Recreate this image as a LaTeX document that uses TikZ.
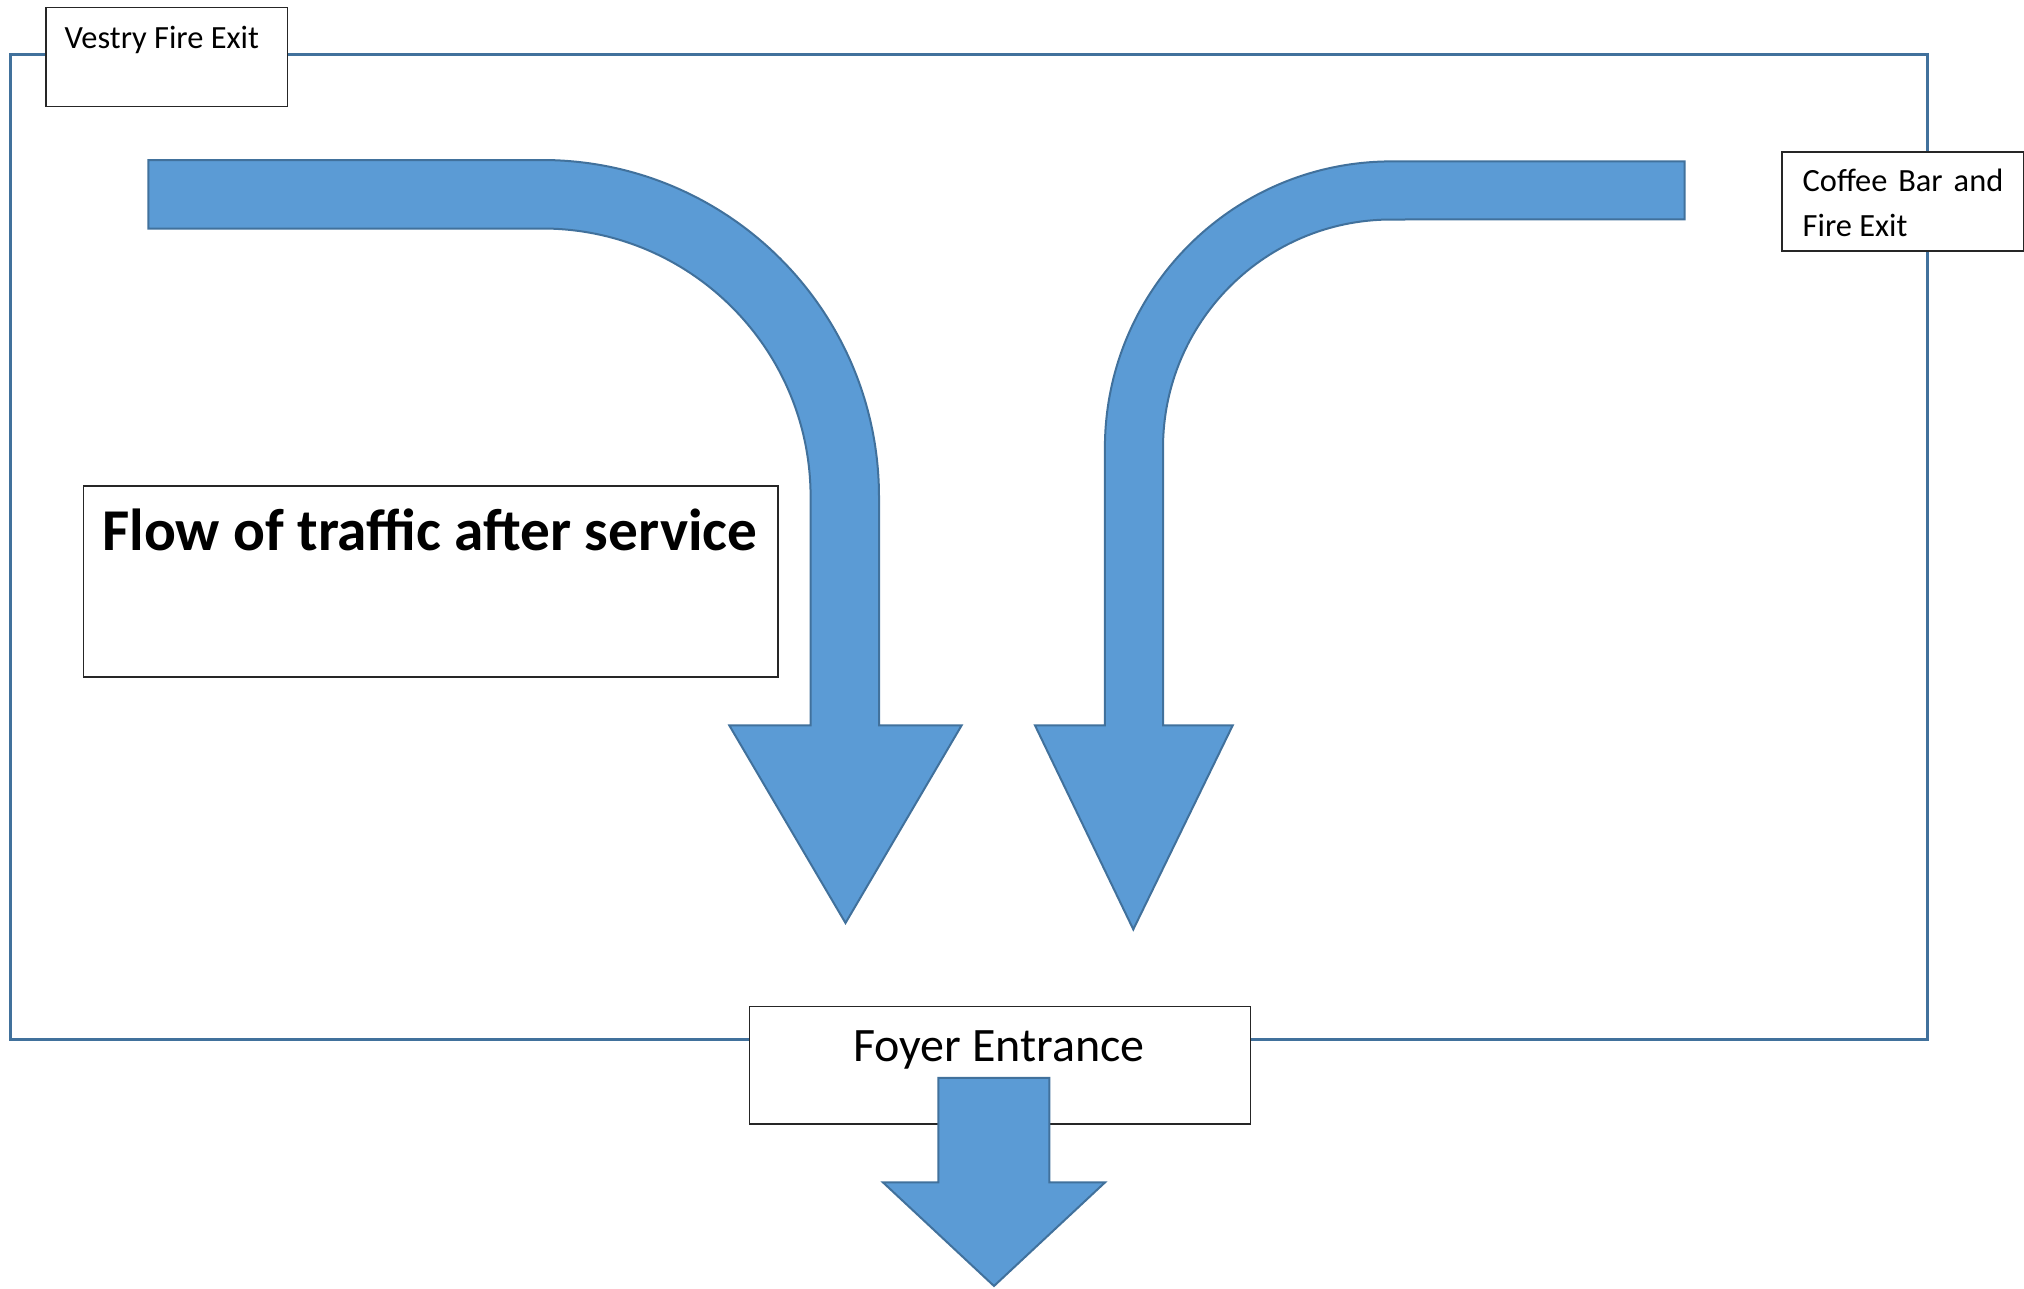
\documentclass[tikz,border=0pt]{standalone}
\usepackage{fontspec}
\setmainfont{Carlito}
\definecolor{arrowblue}{RGB}{91,155,213}
\definecolor{arrowedge}{RGB}{65,113,156}
\definecolor{wallblue}{RGB}{65,113,156}

\begin{document}
\begin{tikzpicture}[x=1pt,y=-1pt,
  wall/.style={draw=wallblue, line width=2.8pt},
  box/.style={draw=black!85, line width=1.5pt, fill=white, inner sep=0pt, anchor=north west},
  flowarrow/.style={fill=arrowblue, draw=arrowedge, line width=2pt, line join=miter},
  small/.style={inner sep=0pt, anchor=base west, font=\fontsize{32.4}{38}\selectfont},
  big/.style={inner sep=0pt, anchor=base, font=\fontsize{48}{56}\selectfont},
  heading/.style={inner sep=0pt, anchor=base, font=\bfseries\fontsize{59.3}{70}\selectfont}]

\useasboundingbox (0,0) rectangle (2024,1288);

% outline of the hall
\draw[wall] (10.3,54.2) rectangle (1927.2,1039.1);

% labelled boxes
\node[box, minimum width=241.4pt, minimum height=99.3pt] (vestry) at (45.2,6.5) {};
\node[box, minimum width=241.7pt, minimum height=99.4pt] (coffee) at (1781,151) {};
\node[box, minimum width=694.4pt, minimum height=191.1pt] (flowbox) at (82.6,485.3) {};
\node[box, minimum width=500.8pt, minimum height=117.5pt] (foyer) at (748.7,1005.5) {};

\node[small] (vestrytext) at (64.5,48.3) {Vestry Fire Exit};
\node[small] (coffeetext1) at (1802.5,191.7) {\makebox[200.6pt][s]{Coffee Bar and}};
\node[small] (coffeetext2) at (1802.5,236.7) {Fire Exit};
\node[heading] (title) at (429.8,550) {Flow of traffic after service};
\node[big] (foyertext) at (999,1061.7) {Foyer Entrance};

% left bent arrow
\draw[flowarrow] (148.4,160) -- (542,160)
  arc[start angle=-90, end angle=0, radius=337]
  -- (879,725.4) -- (961.6,725.4) -- (845.5,923) -- (729.3,725.4) -- (810.6,725.4)
  -- (810.6,497)
  arc[start angle=0, end angle=-90, radius=268.5]
  -- (148.4,228.5) -- cycle;

% right bent arrow
\draw[flowarrow] (1684.5,161.4) -- (1391.5,161.4)
  arc[start angle=-90, end angle=-180, radius=286.6]
  -- (1104.9,725.4) -- (1035,725.4) -- (1133.3,929.4) -- (1232.7,725.4) -- (1163,725.4)
  -- (1163,448)
  arc[start angle=-180, end angle=-90, radius=228.5]
  -- (1684.5,219.4) -- cycle;

% exit arrow through the foyer
\draw[flowarrow] (938.4,1077.8) -- (1049.4,1077.8) -- (1049.4,1182.4) -- (1105,1182.4)
  -- (994,1286) -- (883,1182.4) -- (938.4,1182.4) -- cycle;
\end{tikzpicture}
\end{document}
